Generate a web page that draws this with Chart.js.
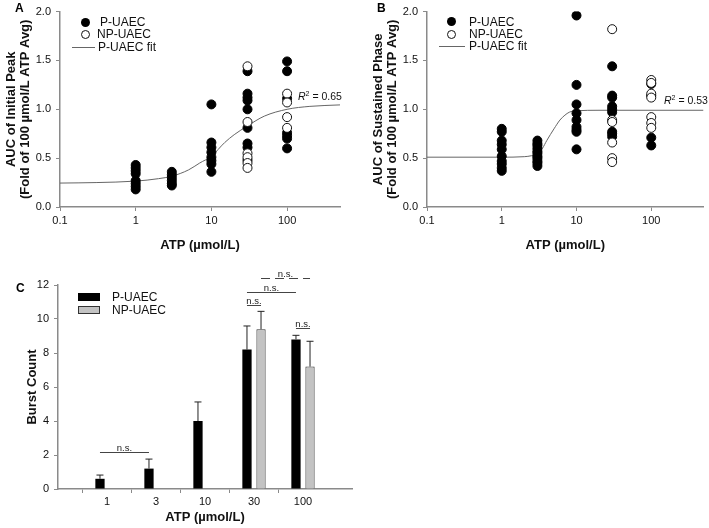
<!DOCTYPE html>
<html>
<head>
<meta charset="utf-8">
<script src="https://cdn.jsdelivr.net/npm/chart.js@4.4.1/dist/chart.umd.min.js"></script>
<style>
  body { margin: 0; background: #fff; font-family: "Liberation Sans", Arial, sans-serif; }
  #wrap { position: relative; width: 709px; height: 528px; overflow: hidden; }
  canvas { position: absolute; }
  .txt { position: absolute; white-space: nowrap; color: #111; font-size: 12px; line-height: 12px; }
  .r2 { position: absolute; white-space: nowrap; color: #111; font-size: 10.5px; line-height: 11px; }
  .lbl { position: absolute; font-weight: bold; font-size: 12px; }
  .dot { position: absolute; width: 9px; height: 9px; border-radius: 50%; box-sizing: border-box; }
  .fill { background: #000; }
  .open { background: #fff; border: 1px solid #111; }
  .ln { position: absolute; height: 0; border-top: 1px solid #666; }
  .sw { position: absolute; width: 22px; height: 8px; box-sizing: border-box; }
</style>
</head>
<body>
<div id="wrap">
  <canvas id="chartA" width="350" height="265" style="left:0;top:0"></canvas>
  <canvas id="chartB" width="349" height="265" style="left:360px;top:0"></canvas>
  <canvas id="chartC" width="360" height="258" style="left:0;top:270px"></canvas>

  <div class="lbl" style="left:15px;top:1px">A</div>
  <div class="lbl" style="left:377px;top:1px">B</div>
  <div class="lbl" style="left:16px;top:281px">C</div>

  <!-- legend A -->
  <div class="dot fill" style="left:81px;top:18px"></div>
  <div class="txt" style="left:100px;top:16px">P-UAEC</div>
  <div class="dot open" style="left:81px;top:30px"></div>
  <div class="txt" style="left:97px;top:28px">NP-UAEC</div>
  <div class="ln" style="left:72px;top:47px;width:23px"></div>
  <div class="txt" style="left:98px;top:41px">P-UAEC fit</div>
  <div class="r2" style="left:298px;top:91px"><i>R</i><sup style="font-size:7px;line-height:0">2</sup> = 0.65</div>

  <!-- legend B -->
  <div class="dot fill" style="left:447px;top:17px"></div>
  <div class="txt" style="left:469px;top:16px">P-UAEC</div>
  <div class="dot open" style="left:447px;top:30px"></div>
  <div class="txt" style="left:469px;top:28px">NP-UAEC</div>
  <div class="ln" style="left:439px;top:46px;width:26px"></div>
  <div class="txt" style="left:469px;top:40px">P-UAEC fit</div>
  <div class="r2" style="left:664px;top:95px"><i>R</i><sup style="font-size:7px;line-height:0">2</sup> = 0.53</div>

  <!-- legend C -->
  <div class="sw" style="left:78px;top:293px;background:#000"></div>
  <div class="txt" style="left:112px;top:291px">P-UAEC</div>
  <div class="sw" style="left:78px;top:306px;background:#c3c3c3;border:1px solid #333"></div>
  <div class="txt" style="left:112px;top:304px">NP-UAEC</div>
</div>

<script>
// doses (ATP, umol/L)
var doses = [1, 3, 10, 30, 100];
var logTicks = [0.1, 1, 10, 100];

// panel A - initial peak, one list per dose
var aP = [
  [0.43, 0.40, 0.37, 0.34, 0.27, 0.24, 0.21, 0.18],
  [0.36, 0.33, 0.30, 0.27, 0.24, 0.22],
  [1.05, 0.66, 0.61, 0.56, 0.51, 0.475, 0.44, 0.36],
  [1.39, 1.16, 1.12, 1.09, 1.00, 0.81, 0.65, 0.61, 0.48],
  [1.49, 1.39, 1.11, 0.76, 0.73, 0.70, 0.60]
];
var aNP = [[], [], [], [1.44, 0.87, 0.55, 0.51, 0.45, 0.40], [1.16, 1.07, 0.92, 0.81]];
var aFitX = [0.1, 0.3, 1, 2, 3, 5, 7, 10, 15, 20, 30, 50, 100, 200, 500];
var aFitY = [0.245, 0.25, 0.265, 0.29, 0.315, 0.38, 0.45, 0.52, 0.66, 0.74, 0.83, 0.93, 1.0, 1.03, 1.045];

// panel B - sustained phase
var bP = [
  [0.80, 0.77, 0.68, 0.64, 0.59, 0.52, 0.47, 0.44, 0.40, 0.37],
  [0.68, 0.65, 0.63, 0.60, 0.57, 0.55, 0.52, 0.50, 0.47, 0.45, 0.42],
  [1.96, 1.25, 1.05, 0.96, 0.89, 0.82, 0.79, 0.77, 0.59],
  [1.44, 1.14, 1.12, 1.03, 1.00, 0.97, 0.77, 0.75, 0.72],
  [1.26, 1.14, 0.71, 0.63]
];
var bNP = [[], [], [], [1.82, 0.89, 0.87, 0.66, 0.50, 0.46], [1.30, 1.27, 1.16, 1.12, 0.92, 0.86, 0.81]];
var bFitX = [0.1, 1, 2, 2.5, 3, 3.5, 4, 5, 6, 7, 8, 10, 20, 500];
var bFitY = [0.51, 0.51, 0.515, 0.525, 0.545, 0.6, 0.68, 0.8, 0.89, 0.94, 0.97, 0.985, 0.99, 0.99];

// panel C - burst count
var cLabels = ['1', '3', '10', '30', '100'];
var cP = [0.6, 1.2, 4.0, 8.2, 8.8];
var cPErr = [0.22, 0.56, 1.12, 1.39, 0.24];
var cNP = [null, null, null, 9.4, 7.2];
var cNPErr = [null, null, null, 1.05, 1.49];
// n.s. comparisons: [dataset, dose index] to [dataset, dose index] at level y
var nsPairs = [
  { a: [0, 0], b: [0, 1], y: 2.2 },
  { a: [0, 3], b: [1, 3], y: 10.85 },
  { a: [0, 3], b: [0, 4], y: 11.57 },
  { a: [1, 3], b: [1, 4], y: 12.4, dash: true },
  { a: [0, 4], b: [1, 4], y: 9.5 }
];

Chart.defaults.font.family = '"Liberation Sans", Arial, sans-serif';
Chart.defaults.color = '#111';
Chart.defaults.animation = false;

var axisGray = '#8a8a8a';

function toPoints(groups) {
  var pts = [];
  groups.forEach(function(vals, i) {
    vals.forEach(function(v) { pts.push({ x: doses[i], y: v }); });
  });
  return pts;
}

function zip(xs, ys) {
  return xs.map(function(x, i) { return { x: x, y: ys[i] }; });
}

function scatterPanel(id, pData, npData, fx, fy, title, yWidth, titlePad) {
  return new Chart(document.getElementById(id), {
    type: 'scatter',
    data: {
      datasets: [{
        label: 'NP-UAEC',
        data: toPoints(npData),
        backgroundColor: '#fff',
        borderColor: '#111',
        borderWidth: 1,
        pointRadius: 4.5,
        order: 0
      }, {
        label: 'P-UAEC',
        data: toPoints(pData),
        backgroundColor: '#000',
        borderColor: '#000',
        pointRadius: 4.5,
        order: 1
      }, {
        label: 'P-UAEC fit',
        data: zip(fx, fy),
        showLine: true,
        borderColor: '#666',
        borderWidth: 1,
        pointRadius: 0,
        cubicInterpolationMode: 'monotone',
        order: 2
      }]
    },
    options: {
      responsive: false,
      layout: { padding: { top: 10, right: id === 'chartA' ? 10 : 2, left: 0, bottom: 0 } },
      plugins: { legend: { display: false }, tooltip: { enabled: false } },
      scales: {
        x: {
          type: 'logarithmic',
          min: 0.1,
          max: 500,
          afterBuildTicks: function(s) { s.ticks = logTicks.map(function(v) { return { value: v }; }); },
          afterFit: function(s) { s.height = 58; },
          ticks: { callback: function(v) { return String(v); }, font: { size: 11 }, padding: 3, maxRotation: 0 },
          grid: { drawOnChartArea: false, tickLength: 4, color: axisGray },
          border: { color: axisGray, width: 1.5 },
          title: { display: true, text: 'ATP (µmol/L)', font: { size: 13, weight: 'bold' }, padding: { top: 0, bottom: 12 } }
        },
        y: {
          min: 0,
          max: 2,
          afterFit: function(s) { s.width = yWidth; },
          ticks: { stepSize: 0.5, callback: function(v) { return v.toFixed(1); }, font: { size: 11 }, padding: 5 },
          grid: { drawOnChartArea: false, tickLength: 4, color: axisGray },
          border: { color: axisGray, width: 1.5 },
          title: { display: true, text: title, font: { size: 13, weight: 'bold', lineHeight: 1.1 }, padding: { top: titlePad, bottom: 0 } }
        }
      }
    }
  });
}

scatterPanel('chartA', aP, aNP, aFitX, aFitY,
  ['AUC of Initial Peak', '(Fold of 100 µmol/L ATP Avg)'], 60, 4);
scatterPanel('chartB', bP, bNP, bFitX, bFitY,
  ['AUC of Sustained Phase', '(Fold of 100 µmol/L ATP Avg)'], 67, 11);

// error bars and n.s. brackets for panel C
var cExtras = {
  id: 'cExtras',
  afterDatasetsDraw: function(chart) {
    var ctx = chart.ctx;
    var ys = chart.scales.y;
    var vals = [cP, cNP];
    var errs = [cPErr, cNPErr];
    ctx.save();
    ctx.strokeStyle = '#222';
    ctx.lineWidth = 1;
    errs.forEach(function(list, d) {
      var meta = chart.getDatasetMeta(d);
      list.forEach(function(e, i) {
        if (e == null) return;
        var bar = meta.data[i + 1];
        var top = ys.getPixelForValue(vals[d][i] + e);
        ctx.beginPath();
        ctx.moveTo(bar.x, bar.y);
        ctx.lineTo(bar.x, top);
        ctx.moveTo(bar.x - 3.5, top);
        ctx.lineTo(bar.x + 3.5, top);
        ctx.stroke();
      });
    });

    ctx.strokeStyle = '#444';
    ctx.fillStyle = '#222';
    ctx.font = '9.5px "Liberation Sans", Arial, sans-serif';
    ctx.textAlign = 'center';
    ctx.textBaseline = 'alphabetic';
    nsPairs.forEach(function(p) {
      var x1 = chart.getDatasetMeta(p.a[0]).data[p.a[1] + 1].x;
      var x2 = chart.getDatasetMeta(p.b[0]).data[p.b[1] + 1].x;
      var y = Math.round(ys.getPixelForValue(p.y)) + 0.5;
      ctx.setLineDash(p.dash ? [9, 5] : []);
      ctx.beginPath();
      ctx.moveTo(x1, y);
      ctx.lineTo(x2, y);
      ctx.stroke();
      ctx.fillText('n.s.', (x1 + x2) / 2, y - 2);
    });
    ctx.restore();
  }
};

var padLabels = [''].concat(cLabels, ['']);

new Chart(document.getElementById('chartC'), {
  type: 'bar',
  data: {
    labels: padLabels,
    datasets: [{
      label: 'P-UAEC',
      data: [null].concat(cP, [null]),
      backgroundColor: '#000',
      borderColor: '#000',
      borderWidth: 0
    }, {
      label: 'NP-UAEC',
      data: [null].concat(cNP, [null]),
      backgroundColor: '#c3c3c3',
      borderColor: '#333',
      borderWidth: 1
    }]
  },
  options: {
    responsive: false,
    categoryPercentage: 0.573,
    barPercentage: 0.66,
    layout: { padding: { top: 15, right: 8, left: 0, bottom: 0 } },
    plugins: { legend: { display: false }, tooltip: { enabled: false } },
    scales: {
      x: {
        offset: false,
        afterFit: function(s) { s.height = 39; },
        ticks: { font: { size: 11 }, padding: 2, maxRotation: 0, autoSkip: false },
        grid: {
          drawOnChartArea: false,
          tickLength: 4,
          color: function(c) { return (c.index === 0 || c.index === padLabels.length - 1) ? 'rgba(0,0,0,0)' : axisGray; }
        },
        border: { color: axisGray, width: 1.5 },
        title: { display: true, text: 'ATP (µmol/L)', font: { size: 13, weight: 'bold' }, padding: { top: 0, bottom: 3 } }
      },
      y: {
        min: 0,
        max: 12,
        afterFit: function(s) { s.width = 58; },
        ticks: { stepSize: 2, font: { size: 11 }, padding: 5 },
        grid: { drawOnChartArea: false, tickLength: 4, color: axisGray },
        border: { color: axisGray, width: 1.5 },
        title: { display: true, text: 'Burst Count', font: { size: 13, weight: 'bold' }, padding: { top: 25, bottom: 0 } }
      }
    }
  },
  plugins: [cExtras]
});
</script>
</body>
</html>
